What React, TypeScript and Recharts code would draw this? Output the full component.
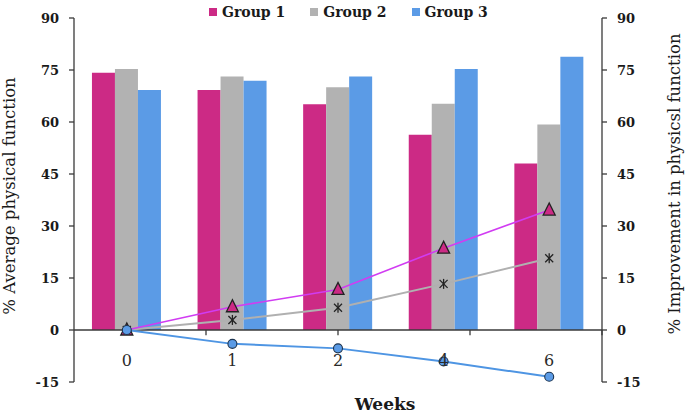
import React from 'react';
import {
  ComposedChart,
  Bar,
  Line,
  XAxis,
  YAxis,
  ReferenceLine,
} from 'recharts';

const weeks = ['0', '1', '2', '4', '6'];
const group1Avg = [74.2, 69.2, 65.1, 56.3, 48.0];
const group2Avg = [75.3, 73.1, 70.0, 65.3, 59.3];
const group3Avg = [69.2, 71.9, 73.1, 75.3, 78.8];
const group1Imp = [0, 6.7, 11.7, 23.6, 34.6];
const group2Imp = [0, 2.9, 6.4, 13.3, 20.7];
const group3Imp = [0, -4.0, -5.3, -9.1, -13.5];
const yTicks = [-15, 0, 15, 30, 45, 60, 75, 90];
const bandEdges = [1, 2, 3, 4];
const groupNames = ['Group 1', 'Group 2', 'Group 3'];

const MAGENTA = '#cc2a85';
const GRAY = '#b2b2b2';
const BLUE = '#5b9be6';
const AXIS = '#3a3a3a';
const FONT = '"DejaVu Serif", serif';

const data = weeks.map((w, i) => ({
  week: w,
  g1: group1Avg[i],
  g2: group2Avg[i],
  g3: group3Avg[i],
  i1: group1Imp[i],
  i2: group2Imp[i],
  i3: group3Imp[i],
}));

const legendColors = [MAGENTA, GRAY, BLUE];

const Triangle = (props: any) => {
  const { cx, cy } = props;
  if (cx == null || cy == null) return null;
  return (
    <polygon
      points={`${cx},${cy - 7} ${cx - 6},${cy + 5} ${cx + 6},${cy + 5}`}
      fill={MAGENTA}
      stroke="#222"
      strokeWidth={1.3}
    />
  );
};

const Star = (props: any) => {
  const { cx, cy } = props;
  if (cx == null || cy == null) return null;
  return (
    <g stroke="#222" strokeWidth={1.3}>
      <line x1={cx - 4} y1={cy - 4} x2={cx + 4} y2={cy + 4} />
      <line x1={cx - 4} y1={cy + 4} x2={cx + 4} y2={cy - 4} />
      <line x1={cx} y1={cy - 5} x2={cx} y2={cy + 5} />
    </g>
  );
};

const Dot = (props: any) => {
  const { cx, cy } = props;
  if (cx == null || cy == null) return null;
  return <circle cx={cx} cy={cy} r={4.5} fill={BLUE} stroke="#1e3550" strokeWidth={1.1} />;
};

const WeekTick = (props: any) => {
  const { x, y, payload } = props;
  return (
    <text x={x} y={y - 16} textAnchor="middle" fontFamily={FONT} fontSize={16} fill="#2a2a2a">
      {payload.value}
    </text>
  );
};

export default function App() {
  return (
    <div style={{ position: 'absolute', left: 0, top: 0, width: 688, height: 414, background: '#fff' }}>
      <div
        style={{
          position: 'absolute',
          left: 209,
          top: 3,
          display: 'flex',
          gap: 25,
          fontFamily: FONT,
          fontWeight: 'bold',
          fontSize: 14,
          lineHeight: '18px',
          color: '#1a1a1a',
          zIndex: 2,
        }}
      >
        {groupNames.map((name, i) => (
          <div key={name} style={{ display: 'flex', alignItems: 'center' }}>
            <span style={{ width: 8, height: 8, background: legendColors[i], marginRight: 5 }} />
            {name}
          </div>
        ))}
      </div>
      <ComposedChart
        width={688}
        height={414}
        data={data}
        margin={{ top: 18, right: 0, bottom: 0, left: 0 }}
        barCategoryGap="17%"
        barGap={0}
      >
        <XAxis
          xAxisId="cat"
          dataKey="week"
          height={32}
          axisLine={false}
          tickLine={false}
          tickSize={0}
          tickMargin={0}
          tick={<WeekTick />}
          interval={0}
          label={{
            value: 'Weeks',
            position: 'insideBottom',
            offset: 4,
            dx: 47,
            style: { fontFamily: FONT, fontWeight: 'bold', fontSize: 17, fill: '#1a1a1a' },
          }}
        />
        <XAxis xAxisId="num" type="number" domain={[0, 5]} hide />
        <YAxis
          yAxisId="left"
          width={74}
          domain={[-15, 90]}
          ticks={yTicks}
          interval={0}
          tickSize={5}
          tickMargin={10}
          axisLine={{ stroke: AXIS, strokeWidth: 1.3 }}
          tickLine={{ stroke: AXIS, strokeWidth: 1.3 }}
          tick={{ fontFamily: FONT, fontWeight: 'bold', fontSize: 13, fill: '#1a1a1a' }}
          label={{
            content: ({ viewBox }: any) => (
              <text
                x={viewBox.x + 15}
                y={viewBox.y + viewBox.height / 2 - 4}
                transform={`rotate(-90, ${viewBox.x + 15}, ${viewBox.y + viewBox.height / 2 - 4})`}
                textAnchor="middle"
                fontFamily={FONT}
                fontSize={16.5}
                fill="#1a1a1a"
              >
                % Average physical function
              </text>
            ),
          }}
        />
        <YAxis
          yAxisId="right"
          orientation="right"
          width={86}
          domain={[-15, 90]}
          ticks={yTicks}
          interval={0}
          tickSize={5}
          tickMargin={10}
          axisLine={{ stroke: AXIS, strokeWidth: 1.3 }}
          tickLine={{ stroke: AXIS, strokeWidth: 1.3 }}
          tick={{ fontFamily: FONT, fontWeight: 'bold', fontSize: 13, fill: '#1a1a1a' }}
          label={{
            content: ({ viewBox }: any) => (
              <text
                x={viewBox.x + 78}
                y={viewBox.y + viewBox.height / 2 - 16}
                transform={`rotate(-90, ${viewBox.x + 78}, ${viewBox.y + viewBox.height / 2 - 16})`}
                textAnchor="middle"
                fontFamily={FONT}
                fontSize={16.5}
                fill="#1a1a1a"
              >
                % Improvement in physicsl function
              </text>
            ),
          }}
        />
        <Bar xAxisId="cat" yAxisId="left" dataKey="g1" name={groupNames[0]} fill={MAGENTA} isAnimationActive={false} />
        <Bar xAxisId="cat" yAxisId="left" dataKey="g2" name={groupNames[1]} fill={GRAY} isAnimationActive={false} />
        <Bar xAxisId="cat" yAxisId="left" dataKey="g3" name={groupNames[2]} fill={BLUE} isAnimationActive={false} />
        <ReferenceLine xAxisId="cat" yAxisId="left" y={0} stroke={AXIS} strokeWidth={1.3} />
        {bandEdges.map((e) => (
          <ReferenceLine
            key={e}
            xAxisId="num"
            yAxisId="left"
            segment={[{ x: e, y: 0 }, { x: e, y: -1.5 }]}
            stroke={AXIS}
            strokeWidth={1.3}
          />
        ))}
        <Line
          xAxisId="cat"
          yAxisId="right"
          dataKey="i2"
          stroke="#b0b0b0"
          strokeWidth={2}
          dot={<Star />}
          isAnimationActive={false}
        />
        <Line
          xAxisId="cat"
          yAxisId="right"
          dataKey="i1"
          stroke="#d13cf2"
          strokeWidth={1.6}
          dot={<Triangle />}
          isAnimationActive={false}
        />
        <Line
          xAxisId="cat"
          yAxisId="right"
          dataKey="i3"
          stroke="#4e95e3"
          strokeWidth={2}
          dot={<Dot />}
          isAnimationActive={false}
        />
      </ComposedChart>
    </div>
  );
}
